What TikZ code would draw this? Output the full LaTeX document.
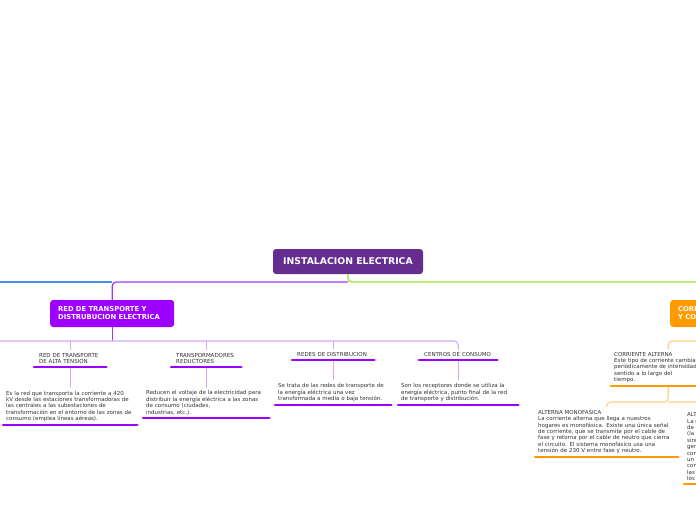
\documentclass[tikz,border=0pt]{standalone}
\usepackage{fontspec}
\setmainfont{DejaVu Sans}
\definecolor{rootc}{HTML}{662D91}
\definecolor{violetc}{HTML}{9D00FF}
\definecolor{vline}{HTML}{A236FF}
\definecolor{lvline}{HTML}{D6A8FF}
\definecolor{bluec}{HTML}{4A8CF0}
\definecolor{greenc}{HTML}{A0E51E}
\definecolor{orangec}{HTML}{FF9A00}
\definecolor{lorange}{HTML}{FFCF85}
\definecolor{txt}{HTML}{333333}
\tikzset{
  rootbox/.style={fill=rootc, rounded corners=3pt, text=white, font=\fontsize{9.3}{10}\selectfont\bfseries, minimum width=150pt, minimum height=25pt, inner sep=0pt},
  mainbox/.style={rounded corners=3pt, text=white, font=\fontsize{6.8}{8}\selectfont\bfseries, align=left, inner xsep=8pt, text width=108pt, minimum height=27pt, anchor=west},
  titlebox/.style={font=\fontsize{5.5}{6.3}\selectfont, text=txt, align=left, inner xsep=5pt, inner ysep=3pt, anchor=south west},
  descbox/.style={font=\fontsize{5.5}{6.4}\selectfont, text=txt, align=left, inner xsep=3pt, inner ysep=3pt, anchor=south west},
  vbar/.style={draw=violetc, line width=2.6pt, line cap=round},
  obar/.style={draw=orangec, line width=2.6pt, line cap=round},
  mainline/.style={line width=1.3pt, rounded corners=4pt},
  subline/.style={line width=1.1pt, rounded corners=4pt},
}
\begin{document}
\begin{tikzpicture}[x=1pt,y=-1pt]
\useasboundingbox (0,0) rectangle (696,520);
\fill[white] (0,0) rectangle (696,520);
\clip (0,0) rectangle (696,520);
\coordinate (hA) at (0,282);
\coordinate (hB) at (0,341);
\coordinate (hC) at (0,402);
\coordinate (leftend) at (-10,282);
\coordinate (rightend) at (710,282);
\coordinate (leftend2) at (-10,341);

% root
\node[rootbox] (root) at (348,261.5) {INSTALACION ELECTRICA};

% main branches
\node[mainbox, fill=violetc] (rdt) at (50,313.5) {RED DE TRANSPORTE Y\\DISTRUBUCION ELECTRICA};
\node[mainbox, fill=orangec] (cor) at (670,313.5) {CORRIENTE ALTERNA\\Y CONTINUA};

\draw[greenc, mainline] (root.south) -- (root.south |- hA) -- (rightend);
\draw[vline, mainline] (root.south |- hA) -| (rdt.north);
\draw[bluec, mainline] (rdt.north |- hA) -- (leftend);

% violet children
\node[titlebox, text width=62pt] (t1) at (34,367) {RED DE TRANSPORTE\\DE ALTA TENSION};
\node[titlebox, text width=60pt] (t2) at (171,367) {TRANSPORMADORES\\REDUCTORES};
\node[titlebox, text width=72pt] (t3) at (292,360) {REDES DE DISTRIBUCION};
\node[titlebox, text width=68pt] (t4) at (419,360) {CENTROS DE CONSUMO};

\node[descbox, text width=128pt] (d1) at (3,425) {Es la red que transporta la corriente a 420\\kV desde las estaciones transformadoras de\\las centrales a las subestaciones de\\transformación en el entorno de las zonas de\\consumo (emplea líneas aéreas).};
\node[descbox, text width=120pt] (d2) at (143,418) {Reducen el voltaje de la electricidad para\\distribuir la energía eléctrica a las zonas\\de consumo (ciudades,\\industrias, etc.).};
\node[descbox, text width=110pt] (d3) at (275,405) {Se trata de las redes de transporte de\\la energía eléctrica una vez\\transformada a media o baja tensión.};
\node[descbox, text width=114pt] (d4) at (398,405) {Son los receptores donde se utiliza la\\energía eléctrica, punto final de la red\\de transporte y distribución.};

\draw[vline, mainline] (rdt.south) -- (rdt.south |- hB);
\draw[lvline, subline] (leftend2) -- (t4.north |- hB) -- (t4.north);
\draw[lvline, subline] (t1.north |- hB) -- (t1.north);
\draw[lvline, subline] (t2.north |- hB) -- (t2.north);
\draw[lvline, subline] (t3.north |- hB) -- (t3.north);
\foreach \i in {1,2,3,4} {
  \draw[lvline, line width=1.1pt] (t\i.south) -- (d\i.north);
  \draw[vbar] (t\i.south west) -- (t\i.south east);
  \draw[vbar] (d\i.south west) -- (d\i.south east);
}

% orange children
\node[descbox, text width=108pt] (ca) at (611,386) {CORRIENTE ALTERNA\\Este tipo de corriente cambia\\periódicamente de intensidad y\\sentido a lo largo del\\tiempo.};
\node[descbox, text width=137pt] (am) at (535,457) {ALTERNA MONOFASICA\\La corriente alterna que llega a nuestros\\hogares es monofásica. Existe una única señal\\de corriente, que se transmite por el cable de\\fase y retorna por el cable de neutro que cierra\\el circuito. El sistema monofásico usa una\\tensión de 230 V entre fase y neutro.};
\node[descbox, text width=144pt] (at) at (684,484) {ALTERNA TRIFASICA\\La corriente trifásica es un sistema\\de producción, distribución y consumo\\(la más empleada) formado por tres\\sinusoidales de igual frecuencia,\\generadas con un desfase entre ellas\\con la misma amplitud y\\un retraso de un tercio de periodo,\\con lo que se consigue que\\las cargas se repartan entre\\los tres cables de fase.};

\draw[lorange, subline] (cor.south) |- (ca.north |- hB) -- (ca.north);
\draw[lorange, subline] (ca.south) -- (ca.south |- hC) -| (am.north);
\draw[lorange, subline] (ca.south |- hC) -| (at.north);
\draw[obar] (ca.south west) -- (ca.south east);
\draw[obar] (am.south west) -- (am.south east);
\draw[obar] (at.south west) -- (at.south east);
\end{tikzpicture}
\end{document}
